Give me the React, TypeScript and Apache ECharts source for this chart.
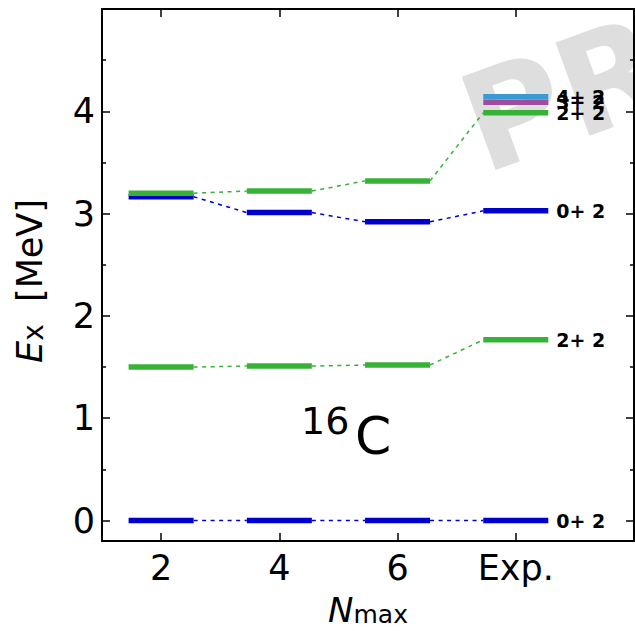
import { useEffect, useRef } from "react";
import * as echarts from "echarts";

// Columns of the level scheme: model space sizes and the measured spectrum
const columns = ["2", "4", "6", "Exp."];
const columnPos = [0, 1, 2, 3];
const yMajorTicks = [0, 1, 2, 3, 4];
const yMinorTicks = [0.5, 1.5, 2.5, 3.5, 4.5];

// Excitation energies in MeV for Nmax = 2, 4, 6 and experiment
const groundState0 = [0, 0, 0, 0];
const first2 = [1.5, 1.51, 1.52, 1.766];
const second0 = [3.165, 3.01, 2.92, 3.027];
const second2 = [3.2, 3.22, 3.32, 3.986];
// States known only from experiment
const exp3 = [4.088];
const exp4 = [4.142];

// Spin-parity tags written next to the measured levels
const tagGround0 = "0+ 2";
const tagFirst2 = "2+ 2";
const tagSecond0 = "0+ 2";
const tagSecond2 = "2+ 2";
const tag3 = "3+ 2";
const tag4 = "4+ 2";

const FONT = '"DejaVu Sans", sans-serif';
const BLUE = "#0000cd";
const GREEN = "#36b336";
const PURPLE = "#9d4f9d";
const SKY = "#3a9bd2";
const HALF = 0.275; // half width of a level bar, in column units

type Level = { values: number[]; cols: number[]; color: string; tag: string };

const levels: Level[] = [
  { values: groundState0, cols: columnPos, color: BLUE, tag: tagGround0 },
  { values: first2, cols: columnPos, color: GREEN, tag: tagFirst2 },
  { values: second0, cols: columnPos, color: BLUE, tag: tagSecond0 },
  { values: second2, cols: columnPos, color: GREEN, tag: tagSecond2 },
  { values: exp3, cols: [3], color: PURPLE, tag: tag3 },
  { values: exp4, cols: [3], color: SKY, tag: tag4 },
];

function connectorSeries(level: Level) {
  const rows: number[][] = [];
  for (let i = 0; i + 1 < level.values.length; i++) {
    rows.push([level.cols[i], level.values[i], level.values[i + 1]]);
  }
  return {
    type: "custom",
    xAxisIndex: 0,
    yAxisIndex: 0,
    silent: true,
    z: 2,
    data: rows,
    renderItem: (_p: any, api: any) => {
      const x = api.value(0);
      const a = api.coord([x + HALF, api.value(1)]);
      const b = api.coord([x + 1 - HALF, api.value(2)]);
      return {
        type: "line",
        shape: { x1: a[0], y1: a[1], x2: b[0], y2: b[1] },
        style: { stroke: level.color, lineWidth: 1.5, lineDash: [4, 4.5], fill: null },
      };
    },
  };
}

function barSeries(level: Level) {
  return {
    type: "custom",
    xAxisIndex: 0,
    yAxisIndex: 0,
    silent: true,
    z: 3,
    data: level.values.map((v, i) => [level.cols[i], v]),
    renderItem: (_p: any, api: any) => {
      const x = api.value(0);
      const y = api.value(1);
      const a = api.coord([x - HALF, y]);
      const b = api.coord([x + HALF, y]);
      const children: any[] = [
        {
          type: "line",
          shape: { x1: a[0], y1: a[1], x2: b[0], y2: b[1] },
          style: { stroke: level.color, lineWidth: 5.5, fill: null },
        },
      ];
      if (x === 3) {
        children.push({
          type: "text",
          x: b[0] + 8,
          y: b[1],
          style: {
            text: level.tag,
            fill: "#000",
            font: `bold 19px ${FONT}`,
            align: "left",
            textAlign: "left",
            verticalAlign: "middle",
            textVerticalAlign: "middle",
          },
        });
      }
      return { type: "group", children };
    },
  };
}

const axisLineStyle = { color: "#000", width: 2 };
const tickLine = { color: "#000", width: 1.5 };

export default function App() {
  const ref = useRef<HTMLDivElement>(null);

  useEffect(() => {
    if (!ref.current) return;
    const chart = echarts.init(ref.current, null, { renderer: "svg" });

    const hiddenLabel = { show: false };
    const noSplit = { show: false };

    const option: any = {
      animation: false,
      backgroundColor: "#fff",
      grid: { left: 102, right: 1, top: 9, bottom: 90, containLabel: false, outerBoundsMode: "none" },
      xAxis: [
        {
          type: "value",
          position: "bottom",
          min: -0.5,
          max: 4,
          axisLine: { show: true, onZero: false, lineStyle: axisLineStyle },
          axisTick: { show: true, inside: true, length: 8, customValues: columnPos, lineStyle: tickLine },
          axisLabel: {
            show: true,
            customValues: columnPos,
            formatter: (v: number) => columns[Math.round(v)],
            fontSize: 35,
            fontFamily: FONT,
            color: "#000",
            margin: 9,
          },
          splitLine: noSplit,
          name: "{n|N}{s|max}",
          nameLocation: "middle",
          nameGap: 52,
          nameTextStyle: {
            rich: {
              n: { fontSize: 34, fontStyle: "italic", fontFamily: FONT, color: "#000", lineHeight: 34, verticalAlign: "bottom" },
              s: { fontSize: 25, fontFamily: FONT, color: "#000", lineHeight: 28, verticalAlign: "bottom" },
            },
          },
        },
        {
          type: "value",
          position: "top",
          min: -0.5,
          max: 4,
          axisLine: { show: true, onZero: false, lineStyle: axisLineStyle },
          axisTick: { show: true, inside: true, length: 8, customValues: columnPos, lineStyle: tickLine },
          axisLabel: hiddenLabel,
          splitLine: noSplit,
        },
      ],
      yAxis: [
        {
          type: "value",
          position: "left",
          min: -0.2,
          max: 5,
          axisLine: { show: true, onZero: false, lineStyle: axisLineStyle },
          axisTick: { show: true, inside: true, length: 8, customValues: yMajorTicks, lineStyle: tickLine },
          axisLabel: {
            show: true,
            customValues: yMajorTicks,
            fontSize: 35,
            fontFamily: FONT,
            color: "#000",
            margin: 7,
          },
          splitLine: noSplit,
          name: "{e|E}{s|x}{r|  [MeV]}",
          nameLocation: "middle",
          nameRotate: 90,
          nameGap: 55,
          nameTextStyle: {
            padding: [0, 12, 0, 0],
            rich: {
              e: { fontSize: 35, fontStyle: "italic", fontFamily: FONT, color: "#000", lineHeight: 35, verticalAlign: "bottom" },
              s: { fontSize: 28, fontFamily: FONT, color: "#000", lineHeight: 16, verticalAlign: "bottom" },
              r: { fontSize: 35, fontFamily: FONT, color: "#000", lineHeight: 35, verticalAlign: "bottom" },
            },
          },
        },
        {
          type: "value",
          position: "right",
          min: -0.2,
          max: 5,
          axisLine: { show: true, onZero: false, lineStyle: axisLineStyle },
          axisTick: { show: true, inside: true, length: 8, customValues: yMajorTicks, lineStyle: tickLine },
          axisLabel: hiddenLabel,
          splitLine: noSplit,
        },
        {
          type: "value",
          position: "left",
          min: -0.2,
          max: 5,
          axisLine: { show: false, onZero: false },
          axisTick: { show: true, inside: true, length: 4, customValues: yMinorTicks, lineStyle: tickLine },
          axisLabel: hiddenLabel,
          splitLine: noSplit,
        },
        {
          type: "value",
          position: "right",
          min: -0.2,
          max: 5,
          axisLine: { show: false, onZero: false },
          axisTick: { show: true, inside: true, length: 4, customValues: yMinorTicks, lineStyle: tickLine },
          axisLabel: hiddenLabel,
          splitLine: noSplit,
        },
      ],
      graphic: [
        {
          type: "text",
          x: 468,
          y: 130,
          rotation: (20 * Math.PI) / 180,
          z: -10,
          silent: true,
          style: {
            text: "PR",
            fill: "#dedede",
            font: `bold 136px ${FONT}`,
            align: "left",
            textAlign: "left",
            verticalAlign: "middle",
            textVerticalAlign: "middle",
          },
        },
        {
          type: "text",
          x: 301,
          y: 421,
          z: 5,
          style: {
            text: "16",
            fill: "#000",
            font: `38px ${FONT}`,
            align: "left",
            textAlign: "left",
            verticalAlign: "middle",
            textVerticalAlign: "middle",
          },
        },
        {
          type: "text",
          x: 355,
          y: 436,
          z: 5,
          style: {
            text: "C",
            fill: "#000",
            font: `52px ${FONT}`,
            align: "left",
            textAlign: "left",
            verticalAlign: "middle",
            textVerticalAlign: "middle",
          },
        },
      ],
      series: [...levels.filter((l) => l.values.length > 1).map(connectorSeries), ...levels.map(barSeries)],
    };

    chart.setOption(option);
    return () => chart.dispose();
  }, []);

  return <div ref={ref} style={{ position: "fixed", left: 0, top: 0, width: 635, height: 631 }} />;
}
